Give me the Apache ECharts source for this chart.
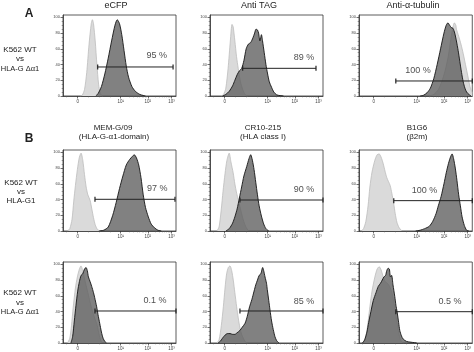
<!DOCTYPE html>
<html>
<head>
<meta charset="utf-8">
<script src="https://cdn.jsdelivr.net/npm/echarts@6/dist/echarts.min.js"></script>
<style>
  html, body { margin: 0; padding: 0; background: #fff; }
  #chart { width: 474px; height: 352px; }
</style>
</head>
<body>
<div id="chart"></div>
<script>
/* axis ticks, on the biexponential display scale (0-100) */
const xTicks = [13, 51, 75, 96];
const xTickLabels = ['0', '10¹', '10²', '10³'];
const xMinorTicks = [3, 22, 32, 42, 58.2, 62.4, 65.4, 67.8, 69.7, 71.3, 72.7, 73.9, 81.3, 85, 87.6, 89.7, 91.3, 92.7, 94, 95];
const yTicks = [0, 20, 40, 60, 80, 100];
const yMinorTicks = [5, 10, 15, 25, 30, 35, 45, 50, 55, 65, 70, 75, 85, 90, 95];

/* histograms: [channel, % of max] -- light = K562 WT, dark = transfectant */
const eCFP_wt = [[15,0],[17,1],[19,8],[21,30],[23,65],[25,92],[26,97],[27,92],[28.5,70],[30,40],[31.5,15],[33,3],[35,0]];
const eCFP_da1 = [[29,0],[31,3],[34,12],[37,28],[40,48],[43,70],[46,90],[48,97],[50,92],[52,78],[54,58],[56,38],[58,24],[61,12],[64,6],[68,2],[73,0]];
const tag_wt = [[10,0],[12,2],[14,10],[16,35],[18,70],[19.5,91],[20.5,88],[22,70],[23.5,50],[25,35],[27,18],[29,8],[31,2],[33,0]];
const tag_da1 = [[11,0],[14,2],[17,6],[20,13],[22,20],[24,27],[26,32],[28,35],[30,45],[32,60],[34,66],[36,68],[38,74],[39.5,80],[40.7,85],[42,84],[43,80],[44.2,70],[45.5,78],[46.5,70],[48,55],[49.5,40],[51,28],[52.5,18],[54.5,11],[56.5,5],[59,1.5],[62,0.5],[65,0]];
const tub_wt = [[62,0],[66,2],[70,8],[73,18],[76,32],[79,52],[81,72],[83,88],[84.2,93],[85.5,90],[86,85],[88,76],[90,66],[92,54],[94,40],[96,26],[98,12],[100,4]];
const tub_da1 = [[54,0],[57,1],[60,4],[63,10],[66,22],[69,40],[72,60],[75,80],[77,90],[78.5,93],[80,90],[81.5,87],[83,86],[84.5,80],[86,70],[87.5,58],[89,44],[90.5,30],[92,18],[93.5,10],[95,5],[97,2],[99,0]];

const memG_wt = [[4,0],[6,3],[8,15],[9.5,38],[11,58],[12.7,78],[14.5,94],[16,99],[17.5,90],[19,72],[20.5,56],[22,46],[24,39],[25.5,28],[27,17],[28.5,8],[30.5,2],[33,0]];
const memG_g1 = [[32,0],[36,1],[40,5],[44,20],[47,36],[50,54],[53,70],[56,84],[59,91],[61.5,95],[63,97],[65,93],[67,84],[69,68],[71,46],[73,30],[75.5,18],[78,9],[81,4],[84,1],[87,0]];
const cr10_wt = [[6,0],[8,5],[10,28],[11.5,50],[13.3,73],[15,90],[17,99],[18.5,88],[20.5,74],[22,60],[23.6,48],[25,40],[26.5,31],[28,22],[29.5,14],[31.5,6],[34,0]];
const cr10_g1 = [[14,0],[17,3],[20,10],[22,18],[24,28],[26,42],[28,56],[30,70],[32.5,82],[34.5,92],[36,97],[37.5,90],[39,78],[40.5,62],[42,46],[43.5,32],[45.5,19],[47.5,9],[49.5,3],[52,0]];
const b1g6_wt = [[2,0],[4,3],[6,12],[8,32],[9.6,56],[11.5,75],[14,90],[16,97],[17.8,98],[19.5,94],[21.3,86],[23,76],[24.5,68],[26,63],[27.5,58],[29,48],[30.5,36],[32,22],[33.5,11],[35.5,4],[38,0]];
const b1g6_g1 = [[50,0],[54,1],[58,3],[62,6],[65,12],[68,22],[70,32],[72.5,44],[75,60],[77,74],[79,86],[81,95],[82.2,98],[83.5,92],[85,80],[86.5,64],[88,46],[89.5,32],[91,18],[93,7],[95,1],[97,0]];

const memG_wt2 = [[4,0],[6,6],[7.5,22],[9,45],[11,70],[12.7,84],[14.5,94],[15.9,98],[17.5,92],[19,82],[21,70],[23,58],[25,46],[27,36],[28.5,30],[30,24],[31.5,14],[33,5],[34.5,0]];
const memG_da1 = [[7,0],[8.5,8],[10,28],[11.5,48],[13,66],[14.5,78],[16,86],[17.5,88],[19,94],[20.4,96],[21.5,92],[22.5,84],[24,78],[25.4,72],[27,64],[28,58],[29.8,46],[31,36],[32.5,25],[34,14],[35.5,6],[37,2],[38.5,0]];
const cr10_wt2 = [[6,0],[8,4],[10,22],[11.8,46],[13.3,70],[14.7,88],[16.2,96],[17.7,98],[19.2,92],[20.6,80],[22,64],[23.6,46],[25,32],[26.5,19],[28,11],[29.5,6],[31,2],[33,0]];
const cr10_da1 = [[7,0],[9,2],[11,6],[13.3,10],[15.5,12],[17.7,12],[20,11],[22,11],[24,13],[26.5,16],[28.5,20],[31,25],[33,34],[35,46],[37,55],[39,66],[40.5,74],[42,80],[43.5,86],[45,88],[46.6,96],[47.5,92],[48.7,84],[50,76],[50.7,68],[52,54],[53.1,42],[54.5,28],[56,17],[57.5,8],[59,3],[61,0]];
const b1g6_wt2 = [[3,0],[5,4],[7,16],[9.6,46],[11.5,66],[14,84],[16,94],[17.8,97],[19.5,93],[21,86],[23,78],[25,76],[27,72],[29,64],[31,50],[32.5,36],[34,22],[35.5,10],[37,3],[39,0]];
const b1g6_da1 = [[3,0],[5,4],[7,14],[8.5,26],[10.5,40],[12.6,54],[15,64],[17,72],[19,76],[20.5,80],[22,84],[23.5,86],[24.5,92],[25.7,95],[26.8,94],[27.8,84],[28.8,86],[30,74],[31.6,59],[32.6,48],[33.6,40],[35,26],[36,16],[37.5,9],[39,5],[42,2],[46,1],[51,0]];

/* gates: start, end, level, percent text, text x, text y */
const gateStart = [30.7, 28.9, 32.5, 28.3, 26.5, 30.7, 28.3, 26.5, 32.5];
const gateEnd = [97.4, 93.8, 100, 99.1, 100, 100, 100, 100, 100];
const gateLevel = [36.9, 35.2, 19.1, 40.3, 39.4, 38.6, 40.7, 40.7, 39.8];
const gateText = ['95 %', '89 %', '100 %', '97 %', '90 %', '100 %', '0.1 %', '85 %', '0.5 %'];
const gateTextX = [83, 83.2, 52, 83.5, 83.2, 57.9, 81.4, 83.2, 80.4];
const gateTextY = [52, 49.2, 32.2, 54.3, 53, 51.3, 53.4, 52.5, 52.5];

const histWT = [eCFP_wt, tag_wt, tub_wt, memG_wt, cr10_wt, b1g6_wt, memG_wt2, cr10_wt2, b1g6_wt2];
const histTF = [eCFP_da1, tag_da1, tub_da1, memG_g1, cr10_g1, b1g6_g1, memG_da1, cr10_da1, b1g6_da1];

/* layout */
const colLeft = [63, 210, 359];
const colWidth = [113, 113, 114];
const rowTop = [15, 150, 262];
const plotH = 81;
const FONT = '"Liberation Sans", Arial, sans-serif';

const grid = [], xAxis = [], yAxis = [], series = [];
for (let i = 0; i < 9; i++) {
    const r = Math.floor(i / 3), c = i % 3;
    grid.push({
        left: colLeft[c], top: rowTop[r], width: colWidth[c], height: plotH,
        show: true, borderColor: '#333', borderWidth: 0.8, backgroundColor: 'transparent',
    });
    // main x axis + a tick-only axis for the minor ticks
    xAxis.push({
        type: 'value', gridIndex: i, min: 0, max: 100,
        axisLine: { lineStyle: { color: '#333', width: 0.8 } },
        axisTick: { customValues: xTicks, length: 2.5, lineStyle: { color: '#333', width: 0.7 } },
        axisLabel: {
            customValues: xTicks, fontSize: 4.5, margin: 3, color: '#444', fontFamily: FONT,
            formatter: v => xTickLabels[xTicks.indexOf(v)],
        },
        splitLine: { show: false },
    });
    xAxis.push({
        type: 'value', gridIndex: i, min: 0, max: 100, position: 'bottom',
        axisLine: { show: false },
        axisTick: { customValues: xMinorTicks, length: 1.3, lineStyle: { color: '#555', width: 0.6 } },
        axisLabel: { show: false },
        splitLine: { show: false },
    });
    yAxis.push({
        type: 'value', gridIndex: i, min: 0, max: 103,
        axisLine: { show: true, lineStyle: { color: '#333', width: 0.8 } },
        axisTick: { show: true, customValues: yTicks, length: 2.5, lineStyle: { color: '#333', width: 0.7 } },
        axisLabel: { customValues: yTicks, fontSize: 4, margin: 3, color: '#444', fontFamily: FONT },
        splitLine: { show: false },
    });
    yAxis.push({
        type: 'value', gridIndex: i, min: 0, max: 103, position: 'left',
        axisLine: { show: false },
        axisTick: { show: true, customValues: yMinorTicks, length: 1.3, lineStyle: { color: '#555', width: 0.6 } },
        axisLabel: { show: false },
        splitLine: { show: false },
    });
    const xi = i * 2, yi = i * 2;
    series.push({
        type: 'line', xAxisIndex: xi, yAxisIndex: yi, data: histWT[i], smooth: 0.25,
        symbol: 'none', lineStyle: { color: '#bdbdbd', width: 0.8 },
        areaStyle: { color: '#dadada', opacity: 1 }, z: 2,
    });
    series.push({
        type: 'line', xAxisIndex: xi, yAxisIndex: yi, data: histTF[i], smooth: 0.25,
        symbol: 'none', lineStyle: { color: '#151515', width: 0.9 },
        areaStyle: { color: '#5e5e5e', opacity: 0.78 }, z: 3,
    });
    series.push({
        type: 'line', xAxisIndex: xi, yAxisIndex: yi,
        data: [[gateStart[i], gateLevel[i]], [gateEnd[i], gateLevel[i]]],
        symbol: 'rect', symbolSize: [1.2, 5], showSymbol: true,
        itemStyle: { color: '#222' }, lineStyle: { color: '#222', width: 1 }, z: 5,
    });
    series.push({
        type: 'scatter', xAxisIndex: xi, yAxisIndex: yi,
        data: [[gateTextX[i], gateTextY[i]]], symbolSize: 0, z: 6,
        label: {
            show: true, position: 'inside', formatter: gateText[i],
            fontSize: 9, color: '#222', fontFamily: FONT,
        },
    });
}

function txt(text, x, y, size, weight) {
    return {
        type: 'text', silent: true,
        style: {
            text: text, x: x, y: y, textAlign: 'center', textVerticalAlign: 'middle',
            fontSize: size, fontWeight: weight || 'normal', fontFamily: FONT, fill: '#222',
        },
    };
}

const graphic = [
    txt('A', 29, 14, 12, 'bold'),
    txt('eCFP', 116, 6, 9),
    txt('Anti TAG', 259, 6, 9),
    txt('Anti-α-tubulin', 413, 6, 9),
    txt('K562 WT', 20, 50, 8), txt('vs', 20, 59, 8), txt('HLA-G Δα1', 20, 69, 7.5),
    txt('B', 29, 139, 12, 'bold'),
    txt('MEM-G/09', 113, 128, 8), txt('(HLA-G-α1-domain)', 114, 137, 8),
    txt('CR10-215', 263, 128, 8), txt('(HLA class I)', 263, 137, 8),
    txt('B1G6', 417, 128, 8), txt('(β2m)', 417, 137, 8),
    txt('K562 WT', 21, 183, 8), txt('vs', 21, 192, 8), txt('HLA-G1', 21, 201, 8),
    txt('K562 WT', 20, 293, 8), txt('vs', 20, 303, 8), txt('HLA-G Δα1', 20, 312, 7.5),
];

const chart = echarts.init(document.getElementById('chart'), null, { renderer: 'canvas' });
chart.setOption({
    animation: false,
    backgroundColor: '#fff',
    grid: grid,
    xAxis: xAxis,
    yAxis: yAxis,
    series: series,
    graphic: graphic,
});
</script>
</body>
</html>
